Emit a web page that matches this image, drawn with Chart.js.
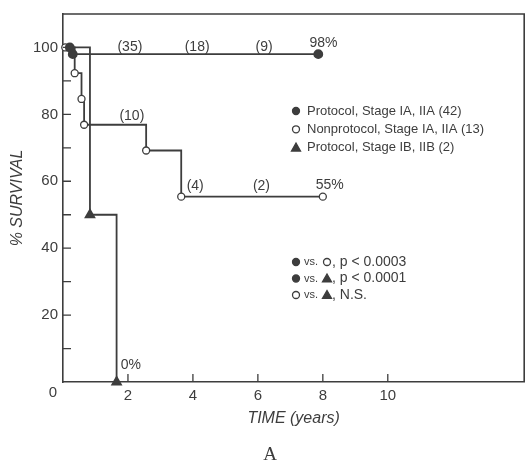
<!DOCTYPE html>
<html>
<head>
<meta charset="utf-8">
<script src="https://cdn.jsdelivr.net/npm/chart.js@4/dist/chart.umd.min.js"></script>
<style>
  html, body { margin: 0; padding: 0; background: #fff; }
</style>
</head>
<body>
<canvas id="km" width="531" height="464"></canvas>
<script>
// Kaplan-Meier curves (time in years, % survival)
const protocolA_t = [0.21, 0.3, 7.86];
const protocolA_s = [100, 98, 98];
const nonprotocol_t = [0.07, 0.36, 0.57, 0.65, 2.56, 3.64, 8.0];
const nonprotocol_s = [100, 92.3, 84.6, 76.9, 69.2, 55.4, 55.4];
const protocolB_t = [0.25, 0.83, 1.65];
const protocolB_s = [100, 50, 0];

const xTickValues = [0, 2, 4, 6, 8, 10];
const yTickMarks = [10, 20, 30, 40, 50, 60, 70, 80, 90, 100];
const yTickLabels = [20, 40, 60, 80, 100];

const legendLabels = ['Protocol, Stage IA, IIA (42)', 'Nonprotocol, Stage IA, IIA (13)', 'Protocol, Stage IB, IIB (2)'];
const pValues = ['p < 0.0003', 'p < 0.0001', 'N.S.'];

const ink = '#3d3d3d';
const pts = (t, s) => t.map((v, i) => ({ x: v, y: s[i] }));

function drawMarker(ctx, kind, x, y, r) {
  ctx.save();
  ctx.lineWidth = 1.3;
  ctx.strokeStyle = ink;
  ctx.fillStyle = kind === 'open' ? '#fff' : ink;
  ctx.beginPath();
  if (kind === 'tri') {
    ctx.moveTo(x, y - r);
    ctx.lineTo(x + r, y + r * 0.75);
    ctx.lineTo(x - r, y + r * 0.75);
    ctx.closePath();
  } else {
    ctx.arc(x, y, r, 0, Math.PI * 2);
  }
  ctx.fill();
  ctx.stroke();
  ctx.restore();
}

// frame, inward ticks, annotations and the legend box
const decor = {
  id: 'decor',
  afterDraw(chart) {
    const { ctx, chartArea: a, scales: { x, y } } = chart;
    ctx.save();
    ctx.strokeStyle = ink;
    ctx.lineWidth = 1.6;
    ctx.beginPath();
    ctx.moveTo(a.left, a.top);
    ctx.lineTo(a.right, a.top);
    ctx.lineTo(a.right, a.bottom);
    ctx.stroke();

    ctx.lineWidth = 1.3;
    ctx.beginPath();
    x.ticks.forEach(t => {
      if (t.value <= 0) return;
      const px = x.getPixelForValue(t.value);
      ctx.moveTo(px, a.bottom);
      ctx.lineTo(px, a.bottom - 8);
    });
    y.ticks.forEach(t => {
      const py = y.getPixelForValue(t.value);
      ctx.moveTo(a.left, py);
      ctx.lineTo(a.left + 8, py);
    });
    ctx.stroke();

    ctx.fillStyle = ink;
    ctx.textBaseline = 'middle';
    ctx.textAlign = 'center';
    ctx.font = '15px "Liberation Sans", Arial, sans-serif';
    ctx.fillText('0', x.getPixelForValue(0) - 10, a.bottom + 11);

    const notes = [
      ['(35)', 2.06, 100.2], ['(18)', 4.13, 100.2], ['(9)', 6.19, 100.2], ['98%', 8.02, 101.3],
      ['(10)', 2.12, 79.5], ['(4)', 4.07, 58.4], ['(2)', 6.11, 58.4], ['55%', 8.21, 58.9], ['0%', 2.09, 5.1]
    ];
    ctx.font = '14px "Liberation Sans", Arial, sans-serif';
    notes.forEach(([txt, vx, vy]) => ctx.fillText(txt, x.getPixelForValue(vx), y.getPixelForValue(vy)));

    // legend
    const kinds = ['filled', 'open', 'tri'];
    const lx = 296;
    ctx.textAlign = 'left';
    ctx.font = '13px "Liberation Sans", Arial, sans-serif';
    legendLabels.forEach((lab, i) => {
      const ly = 111 + i * 18.3;
      drawMarker(ctx, kinds[i], lx, ly, kinds[i] === 'tri' ? 4.5 : 3.5);
      ctx.fillText(lab, lx + 11, ly);
    });

    const pairs = [['filled', 'open'], ['filled', 'tri'], ['open', 'tri']];
    pValues.forEach((p, i) => {
      const ly = 262 + i * 16.5;
      drawMarker(ctx, pairs[i][0], lx, ly, 3.5);
      ctx.font = '11px "Liberation Sans", Arial, sans-serif';
      ctx.fillText('vs.', lx + 8, ly);
      drawMarker(ctx, pairs[i][1], lx + 31, ly, pairs[i][1] === 'tri' ? 4.5 : 3.5);
      ctx.font = '14px "Liberation Sans", Arial, sans-serif';
      ctx.fillText(', ' + p, lx + 36, ly);
    });

    ctx.textAlign = 'center';
    ctx.font = '19px "Liberation Serif", serif';
    ctx.fillText('A', 270, 455);
    ctx.restore();
  }
};

new Chart(document.getElementById('km'), {
  type: 'line',
  data: {
    datasets: [{
      label: legendLabels[0],
      data: pts(protocolA_t, protocolA_s),
      stepped: true,
      borderColor: ink,
      borderWidth: 1.8,
      pointStyle: 'circle',
      pointRadius: 4,
      pointBackgroundColor: ink,
      pointBorderColor: ink,
      clip: false
    }, {
      label: legendLabels[1],
      data: pts(nonprotocol_t, nonprotocol_s),
      stepped: true,
      borderColor: ink,
      borderWidth: 1.8,
      pointStyle: 'circle',
      pointRadius: 3.5,
      pointBorderWidth: 1.3,
      pointBackgroundColor: '#fff',
      pointBorderColor: ink,
      clip: false
    }, {
      label: legendLabels[2],
      data: pts(protocolB_t, protocolB_s),
      stepped: true,
      borderColor: ink,
      borderWidth: 1.8,
      pointStyle: 'triangle',
      pointRadius: [0, 5, 5],
      pointBackgroundColor: ink,
      pointBorderColor: ink,
      clip: false
    }]
  },
  options: {
    responsive: false,
    animation: false,
    layout: { padding: { top: 14, right: 1, left: 0, bottom: 0 } },
    scales: {
      x: {
        type: 'linear',
        min: 0,
        max: 14.2,
        afterBuildTicks: s => { s.ticks = xTickValues.map(v => ({ value: v })); },
        afterFit: s => { s.height = 82; },
        grid: { display: false, drawTicks: false },
        border: { display: true, color: ink, width: 1.6 },
        ticks: {
          padding: 5,
          color: ink,
          font: { family: '"Liberation Sans", Arial, sans-serif', size: 15 },
          callback: v => (v === 0 ? '' : v)
        },
        title: {
          display: true,
          text: 'TIME (years)',
          color: ink,
          font: { family: '"Liberation Sans", Arial, sans-serif', size: 16, style: 'italic' },
          padding: { top: 0, bottom: 36 }
        }
      },
      y: {
        min: 0,
        max: 110,
        afterBuildTicks: s => { s.ticks = yTickMarks.map(v => ({ value: v })); },
        afterFit: s => { s.width = 63; },
        grid: { display: false, drawTicks: false },
        border: { display: true, color: ink, width: 1.6 },
        ticks: {
          padding: 5,
          color: ink,
          font: { family: '"Liberation Sans", Arial, sans-serif', size: 15 },
          callback: v => (yTickLabels.includes(v) ? v : '')
        },
        title: {
          display: true,
          text: '% SURVIVAL',
          color: ink,
          font: { family: '"Liberation Sans", Arial, sans-serif', size: 16, style: 'italic' },
          padding: { top: 8, bottom: 0 }
        }
      }
    },
    plugins: {
      legend: { display: false },
      tooltip: { enabled: false }
    }
  },
  plugins: [decor]
});
</script>
</body>
</html>
